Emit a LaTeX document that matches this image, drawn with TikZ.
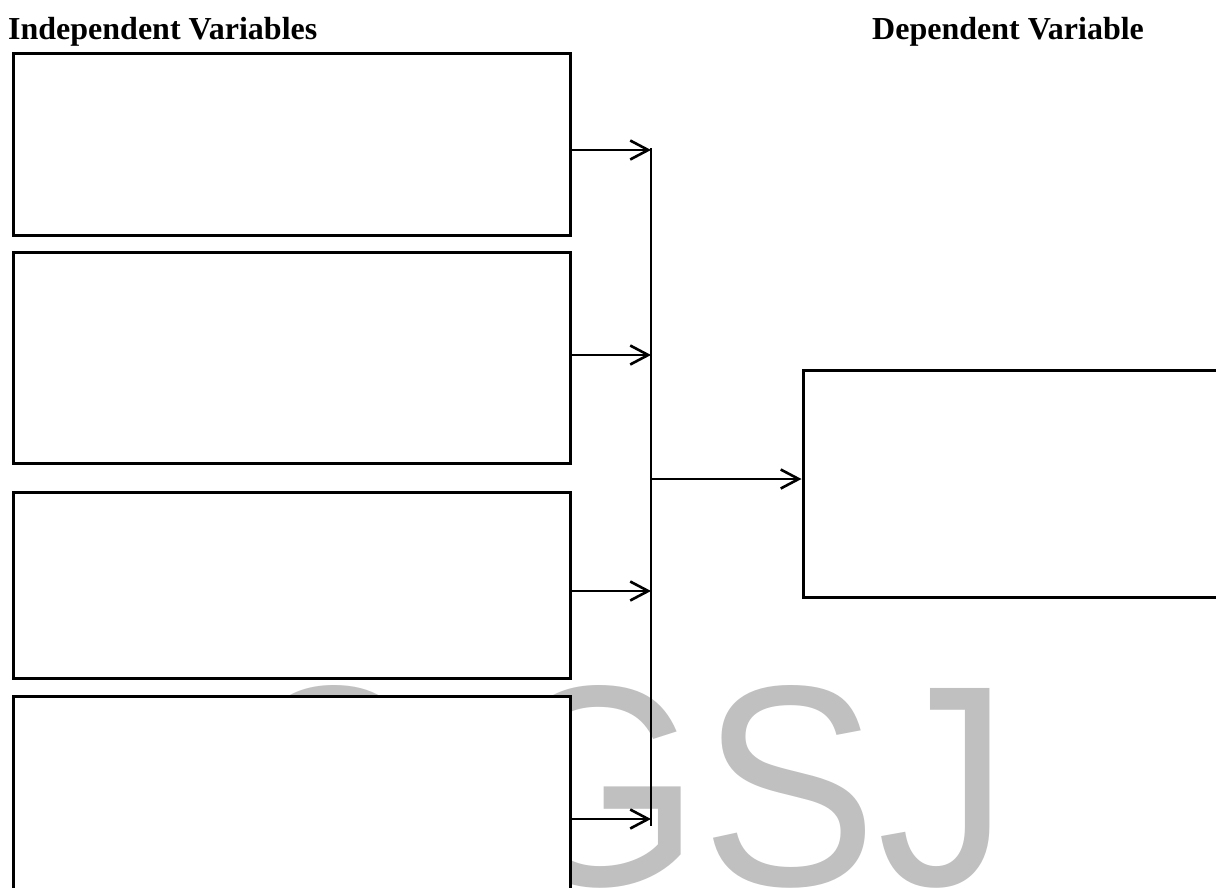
\documentclass[tikz,border=0pt]{standalone}
\usepackage{fontspec}
\setmainfont{Liberation Serif}
\newfontfamily\wmfont{Liberation Sans}
\usetikzlibrary{arrows.meta}
\definecolor{wmgray}{RGB}{192,192,192}
\begin{document}
\begin{tikzpicture}[x=1pt,y=-1pt,
  varbox/.style={draw=black,line width=3pt,fill=white,rectangle,inner sep=0pt},
  arr/.style={line width=2.6pt,-{Straight Barb[length=18pt,width=19pt]}},
  heading/.style={font=\fontsize{32}{38}\selectfont\bfseries,anchor=base west,inner sep=0pt}]
\useasboundingbox (0,0) rectangle (1216,887);
\fill[white] (0,0) rectangle (1216,887);
% watermark
\node[anchor=base west,inner sep=0pt,text=wmgray,font=\wmfont\fontsize{264}{264}\selectfont] (wm) at (232,885) {\scalebox{1}[1.085]{C GSJ}};
% headings
\node[heading] (hind) at (8,39) {Independent Variables};
\node[heading] (hdep) at (872,39) {Dependent Variable};
% independent variable boxes
\node[varbox,minimum width=557pt,minimum height=182pt] (b1) at (291.5,144) {};
\node[varbox,minimum width=557pt,minimum height=211pt] (b2) at (291.5,357.5) {};
\node[varbox,minimum width=557pt,minimum height=186pt] (b3) at (291.5,585) {};
\node[varbox,minimum width=557pt,minimum height=220pt] (b4) at (291.5,806) {};
% dependent variable box
\node[varbox,minimum width=415pt,minimum height=227pt] (dv) at (1010.5,483.5) {};
% collector line
\coordinate (vt) at (651,148);
\coordinate (vb) at (651,826);
\draw[line width=1.5pt] (vt) -- (vb);
\coordinate (j1) at (651,150);
\coordinate (j2) at (651,355);
\coordinate (j3) at (651,591);
\coordinate (j4) at (651,819);
\coordinate (jd) at (651,479);
\draw[arr] (b1.east |- j1) -- (j1);
\draw[arr] (b2.east |- j2) -- (j2);
\draw[arr] (b3.east |- j3) -- (j3);
\draw[arr] (b4.east |- j4) -- (j4);
\draw[arr] (jd) -- (dv.west |- jd);
\end{tikzpicture}
\end{document}
